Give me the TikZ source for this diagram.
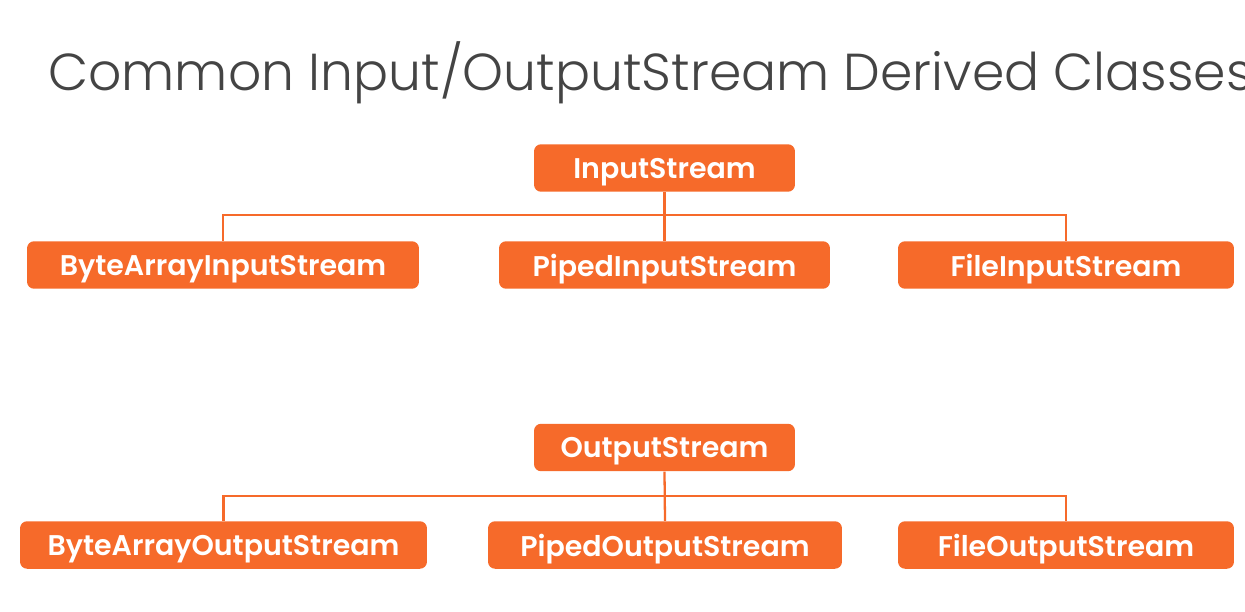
\documentclass[tikz,border=0pt]{standalone}
\usepackage{fontspec}
\setmainfont{Poppins}[BoldFont={* SemiBold}]
\newfontfamily\titlefont{Poppins Light}
\usetikzlibrary{positioning}
\definecolor{psorange}{RGB}{246,106,42}
\definecolor{titlegray}{RGB}{68,68,68}
\tikzset{
  class box/.style={
    rectangle, rounded corners=4pt, fill=psorange, draw=none,
    text=white, font=\bfseries\fontsize{16.2}{19}\selectfont,
    inner sep=0pt, text depth=0pt, minimum height=0.95cm
  },
  link/.style={
    draw=psorange, line width=1.3pt
  }
}

\begin{document}
\begin{tikzpicture}[x=0.02cm, y=-0.02cm]
  \useasboundingbox (0,0) rectangle (1245,612);

  % ------------------------------------------------
  % title
  % ------------------------------------------------
  \node[anchor=base west, inner sep=0pt, text=titlegray,
        font=\titlefont\fontsize{29.6}{36}\selectfont] (title) at (48,90)
        {Common Input/OutputStream Derived Classes};

  % ------------------------------------------------
  % InputStream tree
  % ------------------------------------------------
  \begin{scope}
    \node[class box, minimum width=5.22cm] (inTop) at (664.5,168) {InputStream};
    \node[class box, minimum width=7.84cm] (inB)   at (223,265)   {ByteArrayInputStream};
    \node[class box, minimum width=6.62cm] (inP)   at (664.5,265) {PipedInputStream};
    \node[class box, minimum width=6.72cm] (inF)   at (1066,265)  {FileInputStream};
    \coordinate (inBar) at (0,215);

    \draw[link] (inTop.south) -- (inP.north);
    \draw[link] (inB.north) |- (inF.north |- inBar) -- (inF.north);
  \end{scope}

  % ------------------------------------------------
  % OutputStream tree
  % ------------------------------------------------
  \begin{scope}
    \node[class box, minimum width=5.22cm] (outTop) at (664.5,447.5) {OutputStream};
    \node[class box, minimum width=8.14cm] (outB)   at (223.5,545)   {ByteArrayOutputStream};
    \node[class box, minimum width=7.08cm] (outP)   at (665,545)     {PipedOutputStream};
    \node[class box, minimum width=6.72cm] (outF)   at (1066,545)    {FileOutputStream};
    \coordinate (outBar) at (0,496);

    \draw[link] (outTop.south) -- (outP.north);
    \draw[link] (outB.north) |- (outF.north |- outBar) -- (outF.north);
  \end{scope}
\end{tikzpicture}
\end{document}
